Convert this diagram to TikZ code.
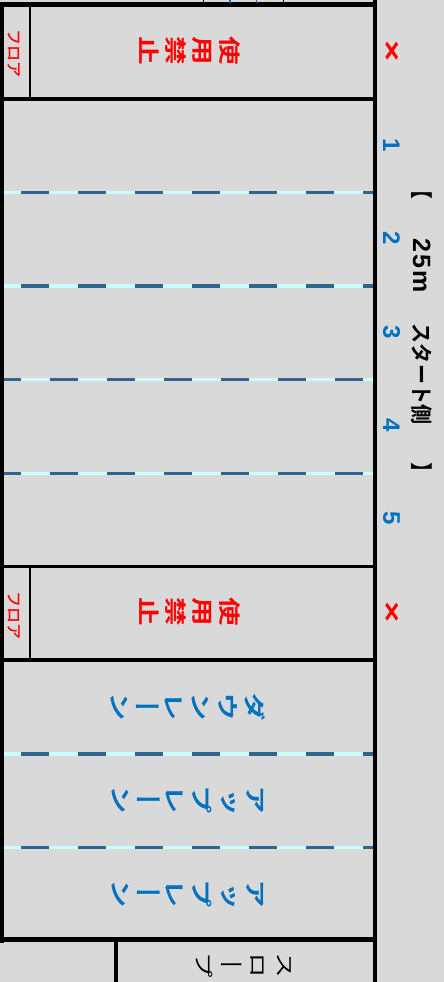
\documentclass[tikz,border=0pt]{standalone}
\usepackage{fontspec}
\newfontfamily\jp{Noto Sans CJK JP Medium}
\newfontfamily\jpb[FakeStretch=0.91]{Noto Sans CJK JP Bold}
\newfontfamily\jpvb[FakeStretch=1.3,RawFeature=+vert]{Noto Sans CJK JP Bold}
\newfontfamily\jpv[FakeStretch=1.3,RawFeature=+vert]{Noto Sans CJK JP}
\newfontfamily\sfb{Liberation Sans Bold}
\newfontfamily\sfx[FakeStretch=1.4]{Liberation Sans Bold}
\newcommand{\longbar}{\raisebox{-0.12em}{\scalebox{0.8}[1.3]{ー}}}
\definecolor{bgc}{HTML}{D9D9D9}
\definecolor{lanec}{HTML}{2F6690}
\definecolor{capc}{HTML}{CCFFFF}
\definecolor{bluec}{HTML}{0070C0}
\tikzset{
  x=1pt,y=-1pt,
  wall/.style={draw=black,line width=4pt},
  thinwall/.style={draw=black,line width=2pt},
  lanebase/.style={draw=capc},
  lanedash/.style={draw=lanec,dash pattern=on 28pt off 29pt},
  redbig/.style={text=red,font=\jpvb\fontsize{22}{27}\selectfont,rotate=-90,inner sep=0pt,align=center},
  bluebig/.style={text=bluec,font=\jpvb\fontsize{22}{27}\selectfont,rotate=-90,inner sep=0pt,align=center},
  blackbig/.style={text=black,font=\jpv\fontsize{20}{27}\selectfont,rotate=-90,inner sep=0pt,align=center},
  floortext/.style={text=red,font=\jp\fontsize{16}{16}\selectfont,rotate=-90,inner sep=0pt},
  numtext/.style={text=bluec,font=\sfb\fontsize{24}{24}\selectfont,rotate=-90,inner sep=0pt},
  crosstext/.style={text=red,font=\sfx\fontsize{26}{26}\selectfont,rotate=-90,inner sep=0pt},
}
\begin{document}
\begin{tikzpicture}
\path[fill=bgc] (0,0) rectangle (444,982);
\useasboundingbox (0,0) rectangle (444,982);
% lanes
\foreach \yy/\w/\ph in {192.5/3/40,286/4/40,379.7/3.3/11.5,473/3/11.5,753.8/4/40,847.5/3.5/40}{
  \draw[lanebase,line width=\w pt] (4,\yy) -- (373,\yy);
  \draw[lanedash,line width=\w pt,dash phase=\ph pt] (4,\yy) -- (373,\yy);
}
% walls
\draw[wall] (2,4.3) -- (2,942.5);
\draw[wall,line width=4.6pt] (0,4.3) -- (377,4.3);
\draw[wall] (375,0) -- (375,982);
\draw[wall,line width=5pt] (0,939.5) -- (377,939.5);
\draw[wall,line width=3.5pt] (0,99) -- (375,99);
\draw[thinwall,line width=3.3pt] (0,566.6) -- (375,566.6);
\draw[thinwall,line width=3.5pt] (0,660) -- (375,660);
\draw[thinwall] (30.3,5) -- (30.3,99);
\draw[thinwall] (30.3,566) -- (30.3,660);
\draw[wall] (116.3,940) -- (116.3,982);
% top stub
\draw[draw=black,line width=1.5pt] (203.5,0) -- (203.5,3);
\draw[draw=black,line width=1.5pt] (283.5,0) -- (283.5,3);
\draw[draw=bluec,line width=1.5pt] (230,0) -- (230,3);
\draw[draw=bluec,line width=1.5pt] (256.5,0) -- (256.5,3);
% red
\node[redbig] (bana) at (189.7,51) {使\\用\\禁\\止};
\node[redbig] (banb) at (189.7,612) {使\\用\\禁\\止};
\node[floortext] (flra) at (14.5,53.5) {フロア};
\node[floortext] (flrb) at (14.5,615) {フロア};
% blue
\node[bluebig] (down) at (188.3,706.7) {ダ\\ウ\\ン\\レ\\\longbar\\ン};
\node[bluebig] (upa) at (188.3,800) {ア\\ッ\\プ\\レ\\\longbar\\ン};
\node[bluebig] (upb) at (188.3,893.3) {ア\\ッ\\プ\\レ\\\longbar\\ン};
\node[blackbig] (slope) at (244,965) {ス\\ロ\\\longbar\\プ};
% side
\node[crosstext] (xa) at (391,51) {×};
\node[crosstext] (xb) at (391,612) {×};
\foreach \yy/\t in {145/1,238.5/2,332/3,425/4,518/5}{
  \node[numtext] (n\t) at (391.5,\yy) {\t};
}
\node[font=\jpb\fontsize{22}{22}\selectfont,rotate=-90,inner sep=0pt] (title) at (421.5,331) {【\kern39pt{\sfb\fontsize{25}{25}\selectfont 2\kern2pt 5\kern2pt m}\kern31pt スタート側\kern38pt 】};
\end{tikzpicture}
\end{document}
